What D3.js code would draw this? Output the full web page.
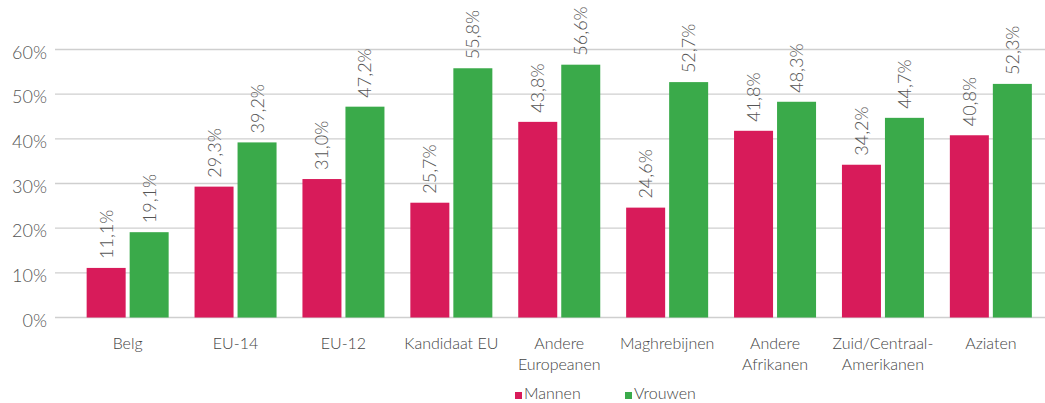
<!DOCTYPE html>
<html><head><meta charset="utf-8">
<script src="https://cdn.jsdelivr.net/npm/d3@7"></script>
<style>
body{margin:0;background:#fff;}
text{font-family:Lato,"Open Sans",sans-serif;font-weight:300;}
</style></head>
<body><svg id="c" width="1045" height="403"></svg>
<script>
const categories = [["Belg"],["EU-14"],["EU-12"],["Kandidaat EU"],["Andere","Europeanen"],["Maghrebijnen"],["Andere","Afrikanen"],["Zuid/Centraal-","Amerikanen"],["Aziaten"]];
const seriesNames = ["Mannen","Vrouwen"];
const mannen = [11.1,29.3,31.0,25.7,43.8,24.6,41.8,34.2,40.8];
const vrouwen = [19.1,39.2,47.2,55.8,56.6,52.7,48.3,44.7,52.3];
const yTicks = [0,10,20,30,40,50,60];
const colors = ["#d81b5a","#3aaa4a"];

const svg = d3.select("#c");
const catKeys = categories.map(c=>c.join(" "));
const x0 = d3.scaleBand().domain(catKeys).range([73.7,1044.8]).paddingInner(0.24).paddingOuter(0.12);
const x1 = d3.scaleBand().domain(seriesNames).range([0,x0.bandwidth()]).paddingInner(0.093);
const y = d3.scaleLinear().domain([0,60]).range([317.5,49.5]);
const fmt = v => d3.format(".1f")(v).replace(".",",")+"%";

// grid
svg.append("g").selectAll("line").data(yTicks).join("line")
  .attr("x1",55).attr("x2",1045).attr("y1",d=>y(d)).attr("y2",d=>y(d))
  .attr("stroke","#cfcfcf").attr("stroke-width",1.3);
svg.append("g").selectAll("text").data(yTicks).join("text")
  .attr("x",47).attr("y",d=>y(d)+9).attr("text-anchor","end")
  .attr("font-size",18).attr("fill","#555").text(d=>d+"%");

const data = catKeys.map((k,i)=>({k, vals:[{s:"Mannen",v:mannen[i]},{s:"Vrouwen",v:vrouwen[i]}]}));
const g = svg.append("g").selectAll("g").data(data).join("g").attr("transform",d=>`translate(${x0(d.k)},0)`);
g.selectAll("rect").data(d=>d.vals).join("rect")
  .attr("x",d=>x1(d.s)).attr("width",x1.bandwidth())
  .attr("y",d=>y(d.v)).attr("height",d=>y(0)-y(d.v))
  .attr("fill",(d,i)=>colors[i]);
g.selectAll("text.v").data(d=>d.vals).join("text").attr("class","v")
  .attr("transform",d=>`translate(${x1(d.s)+x1.bandwidth()/2+6.5},${y(d.v)-9}) rotate(-90)`)
  .attr("font-size",18).attr("fill","#555").text(d=>fmt(d.v));

// x labels
const xl = svg.append("g").selectAll("text").data(categories).join("text")
  .attr("x",(d,i)=>x0(catKeys[i])+x0.bandwidth()/2).attr("y",349)
  .attr("text-anchor","middle").attr("font-size",16).attr("fill","#444");
xl.selectAll("tspan").data(d=>d).join("tspan")
  .attr("x",function(){return this.parentNode.getAttribute("x");})
  .attr("dy",(d,i)=>i?21:0).text(d=>d);

// legend
const lx = [515,625];
const lg = svg.append("g").selectAll("g").data(seriesNames).join("g").attr("transform",(d,i)=>`translate(${lx[i]},0)`);
lg.append("rect").attr("x",0).attr("y",392).attr("width",7).attr("height",7).attr("fill",(d,i)=>colors[i]);
lg.append("text").attr("x",9).attr("y",399).attr("font-size",16).attr("fill","#444").text(d=>d);
</script></body></html>
